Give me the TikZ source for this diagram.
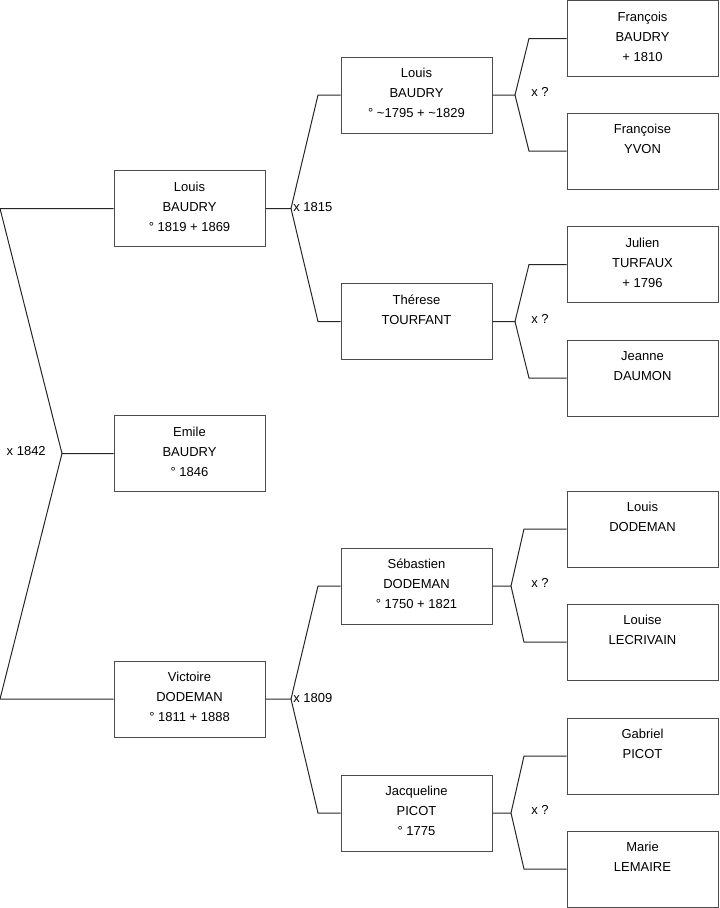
\documentclass[tikz,border=0pt]{standalone}
\usepackage{fontspec}
\setmainfont{Liberation Sans}
\usetikzlibrary{positioning}
\tikzset{
  person/.style={draw=black!70, line width=0.75pt, minimum width=113.25pt,
    minimum height=57pt, align=center, inner sep=0pt, text depth=3pt,
    font=\fontsize{9.75}{15}\selectfont},
  link/.style={line width=0.75pt, black!85},
  union/.style={font=\fontsize{9.75}{11}\selectfont, inner sep=0pt}
}

\begin{document}
\begin{tikzpicture}[x=0.75pt,y=-0.75pt]
\useasboundingbox (0,0) rectangle (719,908);
\def\cA{189.5}
\def\cB{416.5}
\def\cC{642.5}

% generation 1
\node[person] (louisA) at (\cA,208.5) {Louis\\BAUDRY\\° 1819 + 1869};
\node[person] (emile) at (\cA,453.5) {Emile\\BAUDRY\\° 1846};
\node[person] (victoire) at (\cA,699) {Victoire\\DODEMAN\\° 1811 + 1888};

% generation 2
\node[person] (louisB) at (\cB,95) {Louis\\BAUDRY\\° \textasciitilde1795 + \textasciitilde1829};
\node[person] (therese) at (\cB,321.5) {Thérese\\TOURFANT\\\vphantom{0}};
\node[person] (sebastien) at (\cB,586) {Sébastien\\DODEMAN\\° 1750 + 1821};
\node[person] (jacqueline) at (\cB,813) {Jacqueline\\PICOT\\° 1775};

% generation 3
\node[person] (francois) at (\cC,38.5) {François\\BAUDRY\\+ 1810};
\node[person] (francoise) at (\cC,151) {Françoise\\YVON\\\vphantom{0}};
\node[person] (julien) at (\cC,264.5) {Julien\\TURFAUX\\+ 1796};
\node[person] (jeanne) at (\cC,378) {Jeanne\\DAUMON\\\vphantom{0}};
\node[person] (louisC) at (\cC,529) {Louis\\DODEMAN\\\vphantom{0}};
\node[person] (louise) at (\cC,642) {Louise\\LECRIVAIN\\\vphantom{0}};
\node[person] (gabriel) at (\cC,756) {Gabriel\\PICOT\\\vphantom{0}};
\node[person] (marie) at (\cC,869) {Marie\\LEMAIRE\\\vphantom{0}};

% marriages
\coordinate (o) at (0,0);
\coordinate (m0) at (62,453.5);
\coordinate (m1) at (291,208.5);
\coordinate (m2) at (515,95);
\coordinate (m3) at (515,321.5);
\coordinate (m4) at (291,699);
\coordinate (m5) at (511,586);
\coordinate (m6) at (511,813);
\coordinate (kB) at (318,0);
\coordinate (kC) at (529,0);
\coordinate (kD) at (524,0);

\draw[link] (emile.west) -- (m0) -- (o |- louisA.west) -- (louisA.west);
\draw[link] (m0) -- (o |- victoire.west) -- (victoire.west);
\node[union, left=12pt of m0, yshift=1.5pt] (u0) {x 1842};

\draw[link] (louisA.east) -- (m1) -- (kB |- louisB.west) -- (louisB.west);
\draw[link] (m1) -- (kB |- therese.west) -- (therese.west);
\node[union, right=1.5pt of m1, yshift=1pt] (u1) {x 1815};

\draw[link] (victoire.east) -- (m4) -- (kB |- sebastien.west) -- (sebastien.west);
\draw[link] (m4) -- (kB |- jacqueline.west) -- (jacqueline.west);
\node[union, right=1.5pt of m4, yshift=1pt] (u4) {x 1809};

\draw[link] (louisB.east) -- (m2) -- (kC |- francois.west) -- (francois.west);
\draw[link] (m2) -- (kC |- francoise.west) -- (francoise.west);
\node[union, right=12pt of m2, yshift=2pt] (u2) {x ?};

\draw[link] (therese.east) -- (m3) -- (kC |- julien.west) -- (julien.west);
\draw[link] (m3) -- (kC |- jeanne.west) -- (jeanne.west);
\node[union, right=12pt of m3, yshift=2pt] (u3) {x ?};

\draw[link] (sebastien.east) -- (m5) -- (kD |- louisC.west) -- (louisC.west);
\draw[link] (m5) -- (kD |- louise.west) -- (louise.west);
\node[union, right=15pt of m5, yshift=2pt] (u5) {x ?};

\draw[link] (jacqueline.east) -- (m6) -- (kD |- gabriel.west) -- (gabriel.west);
\draw[link] (m6) -- (kD |- marie.west) -- (marie.west);
\node[union, right=15pt of m6, yshift=2pt] (u6) {x ?};
\end{tikzpicture}
\end{document}
